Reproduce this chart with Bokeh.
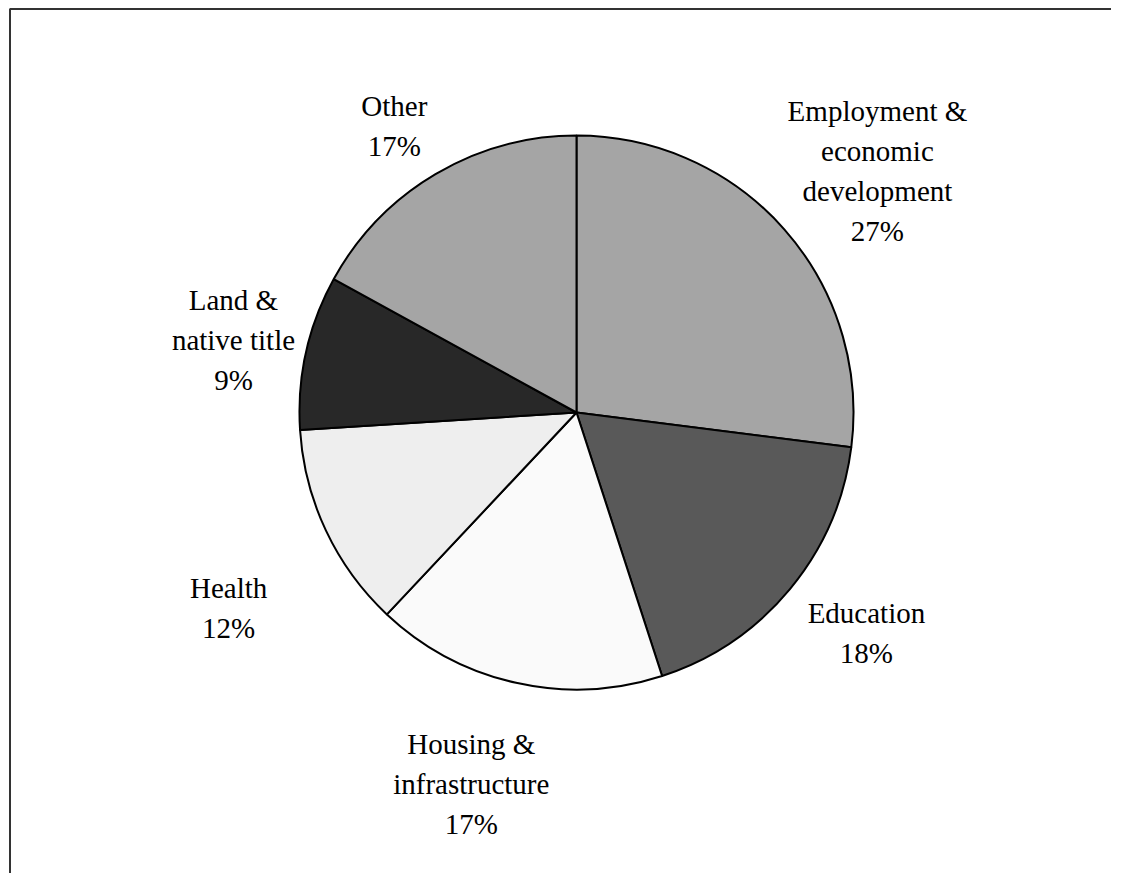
import math
from bokeh.plotting import figure
from bokeh.models import Range1d, BoxAnnotation, ColumnDataSource
from bokeh.core.properties import value
from bokeh.embed import file_html
from bokeh.resources import INLINE

# ---- data ----
categories = ["Employment &\neconomic\ndevelopment", "Education", "Housing &\ninfrastructure",
              "Health", "Land &\nnative title", "Other"]
shares = [27, 18, 17, 12, 9, 17]
colors = ["#a5a5a5", "#595959", "#fafafa", "#eeeeee", "#282828", "#a5a5a5"]

# ---- layout (pixels) ----
W, H = 1111, 873
CX, CY = 576, 412          # pie centre on the canvas (from top-left)
R = 277                    # pie radius
FONT_PX = 29
LINE_GAP = 40
label_radius = [1.394, 1.314, 1.395, 1.44, 1.266, 1.227]   # in units of R
label_nudge_deg = [2.6, -2.4, 3.2, -4.1, -0.6, -1.8]

p = figure(width=W, height=H, output_backend="svg", toolbar_location=None,
           x_range=Range1d(-CX, W - CX), y_range=Range1d(-(H - CY), CY),
           min_border=0)
p.axis.visible = False
p.grid.visible = False
p.outline_line_color = None
p.background_fill_color = "white"
p.border_fill_color = "white"

total = float(sum(shares))
starts, ends, mids = [], [], []
acc = 0.0
for s in shares:
    f0 = acc / total
    acc += s
    f1 = acc / total
    starts.append(math.pi / 2 - 2 * math.pi * f0)
    ends.append(math.pi / 2 - 2 * math.pi * f1)
    mids.append((f0 + f1) / 2)

src = ColumnDataSource(dict(start=starts, end=ends, color=colors))
p.wedge(x=0, y=0, radius=R, start_angle="start", end_angle="end", direction="clock",
        fill_color="color", line_color="black", line_width=2, source=src)

# labels
tx, ty, tt = [], [], []
for cat, s, m, rf, nd in zip(categories, shares, mids, label_radius, label_nudge_deg):
    ang = 2 * math.pi * m + math.radians(nd)   # clockwise from 12 o'clock
    cx = rf * R * math.sin(ang)
    cy = rf * R * math.cos(ang)
    lines = cat.split("\n") + [f"{s}%"]
    n = len(lines)
    for i, ln in enumerate(lines):
        tx.append(cx)
        ty.append(cy - (i - (n - 1) / 2) * LINE_GAP)
        tt.append(ln)

p.text(x=tx, y=ty, text=tt, text_align="center", text_baseline="alphabetic",
       text_font=value("Liberation Serif"), text_font_size=f"{FONT_PX}px",
       text_color="black")

# chart-area border: its right and bottom edges lie outside the visible area
p.add_layout(BoxAnnotation(left=-CX + 9.5, top=CY - 8.5,
                           right=W - CX + 20, bottom=-(H - CY) - 20,
                           fill_alpha=0, line_color="#333333", line_width=2,
                           line_alpha=1))

open("out.html", "w").write(file_html(p, INLINE))
